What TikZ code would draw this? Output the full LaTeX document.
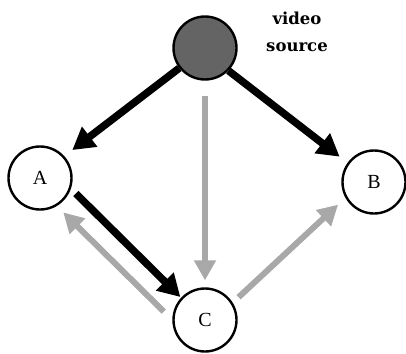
\documentclass[tikz,border=0pt]{standalone}
\usepackage{fontspec}
\setmainfont{Liberation Serif}
\newfontfamily\lblfont{DejaVu Serif}
\usetikzlibrary{arrows.meta}
\definecolor{arrgray}{RGB}{168,168,168}
\definecolor{srcfill}{RGB}{100,100,100}
\begin{document}
\begin{tikzpicture}[x=1pt,y=-1pt,
  peer/.style={circle,draw=black,line width=2.4pt,minimum size=63pt,inner sep=0pt,font=\fontsize{20}{22}\selectfont},
  blackarrow/.style={line width=7.5pt,draw=black,-{Triangle[length=22pt,width=24pt]}},
  grayarrow/.style={line width=6pt,draw=arrgray,-{Triangle[length=20pt,width=21pt]}}]
\useasboundingbox (0,0) rectangle (406,353);
\node[peer,fill=srcfill] (S) at (205,48) {};
\node[peer] (A) at (40,178) {A};
\node[peer] (B) at (374,182) {B};
\node[peer] (C) at (205,320) {C};
\node[align=center,font=\lblfont\bfseries\fontsize{16.5}{27}\selectfont] (lbl) at (297,32) {video\\source};
\draw[blackarrow,shorten >=10pt] (S.218) -- (A.42);
\draw[blackarrow,shorten >=10pt] (S.-44) -- (B.144);
\draw[grayarrow,shorten <=15pt,shorten >=7pt] (S.south) -- (C.north);
\draw[blackarrow,shorten <=7pt,shorten >=1pt] (A.-19) -- (C.137);
\draw[grayarrow,shorten <=12pt,shorten >=9pt] (C.180) -- (A.-59);
\draw[grayarrow,shorten <=8pt,shorten >=10pt] (C.32) -- (B.209);
\end{tikzpicture}
\end{document}
